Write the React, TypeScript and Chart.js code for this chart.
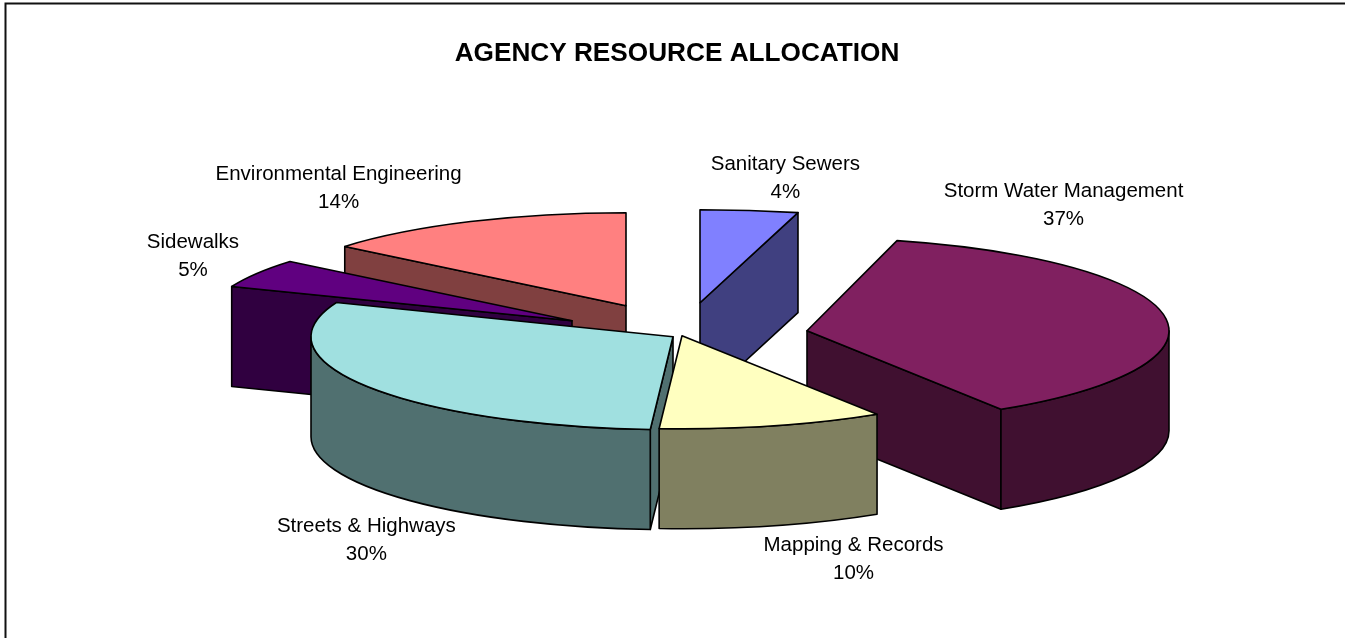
import React, { useEffect, useRef } from "react";
import { Chart, registerables } from "chart.js";

Chart.register(...registerables);

const categories = ["Sanitary Sewers", "Storm Water Management", "Mapping & Records", "Streets & Highways", "Sidewalks", "Environmental Engineering"];
const shares = [4, 37, 10, 30, 5, 14];
const topColors = ["#8080FF", "#802060", "#FFFFC0", "#A0E0E0", "#600080", "#FF8080"];
const sideColors = ["#404080", "#401030", "#808060", "#507070", "#300040", "#804040"];
const slicePull = [[23, -33], [130, -5], [5, 0], [-4, 1], [-105, -15], [-51, -30]];
const sliceRx = [394, 362, 364, 362, 366, 365];
const paintOrder = [5, 4, 0, 1, 3, 2];
const labelNudge = [[36, -32], [-101, -111], [81, 134], [-1, 154], [-64, -17], [-132, -33]];

const RY = 93;
const DEPTH = 100;

const pie3d = {
  id: "pie3d",
  beforeDatasetsDraw(chart: any) {
    const ctx = chart.ctx;
    const meta = chart.getDatasetMeta(0);
    ctx.save();
    ctx.lineWidth = 1.6;
    ctx.strokeStyle = "#000";
    ctx.lineJoin = "round";
    for (const i of paintOrder) {
      const a = meta.data[i];
      const s = a.startAngle, e = a.endAngle;
      const RX = sliceRx[i];
      const ax = a.x + slicePull[i][0];
      const ay = a.y + slicePull[i][1];
      const px = (t: number) => ax + Math.cos(t) * RX;
      const py = (t: number) => ay + Math.sin(t) * RY;
      const paint = (fill: string) => {
        ctx.fillStyle = fill;
        ctx.fill();
        ctx.stroke();
      };
      const face = (t: number) => {
        ctx.beginPath();
        ctx.moveTo(ax, ay);
        ctx.lineTo(px(t), py(t));
        ctx.lineTo(px(t), py(t) + DEPTH);
        ctx.lineTo(ax, ay + DEPTH);
        ctx.closePath();
        paint(sideColors[i]);
      };
      if (Math.cos(s) < 0) face(s);
      if (Math.cos(e) > 0) face(e);
      const from = Math.max(s, 0);
      const to = Math.min(e, Math.PI);
      if (to > from) {
        ctx.beginPath();
        ctx.ellipse(ax, ay, RX, RY, 0, from, to);
        ctx.lineTo(px(to), py(to) + DEPTH);
        ctx.ellipse(ax, ay + DEPTH, RX, RY, 0, to, from, true);
        ctx.closePath();
        paint(sideColors[i]);
      }
      ctx.beginPath();
      ctx.moveTo(ax, ay);
      ctx.ellipse(ax, ay, RX, RY, 0, s, e);
      ctx.closePath();
      paint(topColors[i]);
    }
    ctx.restore();
    return false;
  },
  afterDraw(chart: any) {
    const ctx = chart.ctx;
    const meta = chart.getDatasetMeta(0);
    ctx.save();
    ctx.strokeStyle = "#111";
    ctx.lineWidth = 2;
    ctx.beginPath();
    ctx.moveTo(5.5, 700);
    ctx.lineTo(5.5, 3.5);
    ctx.lineTo(1400, 3.5);
    ctx.stroke();
    ctx.fillStyle = "#000";
    ctx.font = '20.5px "Liberation Sans"';
    ctx.textAlign = "center";
    ctx.textBaseline = "middle";
    const total = shares.reduce((p, v) => p + v, 0);
    meta.data.forEach((a: any, i: number) => {
      const mid = (a.startAngle + a.endAngle) / 2;
      const x = a.x + slicePull[i][0] + Math.cos(mid) * sliceRx[i] + labelNudge[i][0];
      const y = a.y + slicePull[i][1] + Math.sin(mid) * RY + labelNudge[i][1];
      ctx.fillText(categories[i], x, y - 14);
      ctx.fillText(Math.round((shares[i] / total) * 100) + "%", x, y + 14);
    });
    ctx.restore();
  },
};

export default function App() {
  const ref = useRef<HTMLCanvasElement>(null);
  useEffect(() => {
    const chart = new Chart(ref.current!, {
      type: "pie",
      data: {
        labels: categories,
        datasets: [{ data: shares, backgroundColor: topColors }],
      },
      options: {
        animation: false,
        responsive: false,
        devicePixelRatio: 1,
        layout: { padding: { left: 9, right: 0, top: 0, bottom: 44 } },
        plugins: {
          legend: { display: false },
          tooltip: { enabled: false },
          title: {
            display: true,
            text: "AGENCY RESOURCE ALLOCATION",
            color: "#000",
            font: { family: '"Liberation Sans"', size: 26.2, weight: "bold" },
            padding: { top: 38, bottom: 8 },
          },
        },
      },
      plugins: [pie3d],
    } as any);
    return () => chart.destroy();
  }, []);
  return (
    <canvas
      ref={ref}
      width={1345}
      height={638}
      style={{ position: "fixed", left: 0, top: 0, width: 1345, height: 638, background: "#fff" }}
    />
  );
}
